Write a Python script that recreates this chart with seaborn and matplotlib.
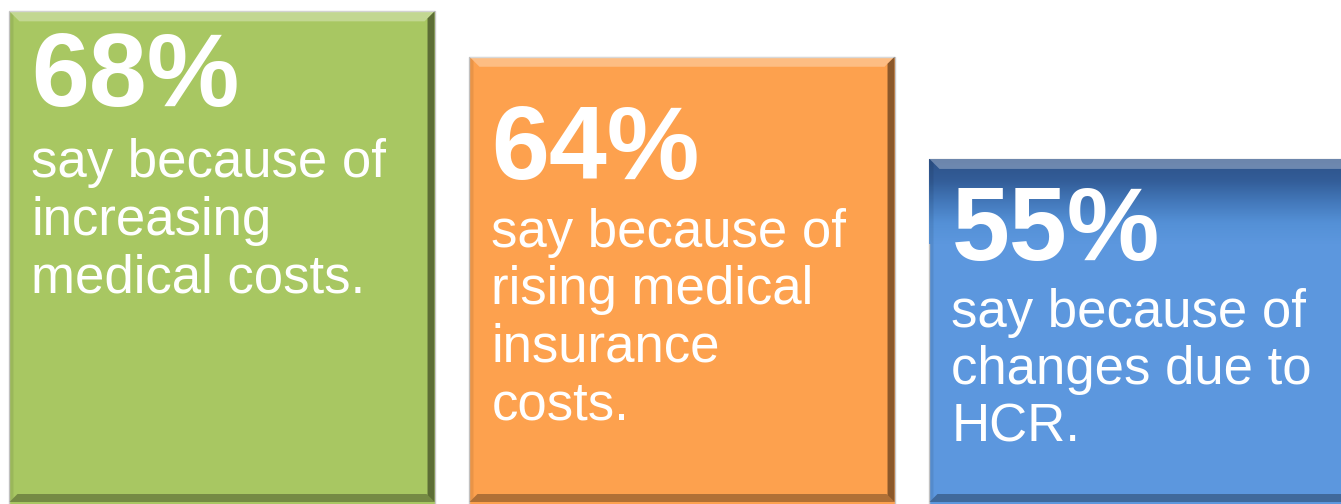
#!/usr/bin/env python3
"""
Three bevelled bars: reasons given for rising costs
"""

import matplotlib
matplotlib.use("Agg")
import matplotlib.pyplot as plt
import matplotlib.transforms as mtransforms
from matplotlib.patches import Polygon
from matplotlib.colors import LinearSegmentedColormap
import seaborn as sns
import numpy as np
import pandas as pd

# Data
categories = ['increasing medical costs', 'rising medical insurance costs', 'changes due to HCR']
values = [68, 64, 55]
big_labels = ['68%', '64%', '55%']
body_labels = [
    'say because of\nincreasing\nmedical costs.',
    'say because of\nrising medical\ninsurance\ncosts.',
    'say because of\nchanges due to\nHCR.',
]

# Styles / layout
bar_colors = ['#A8C762', '#FDA14E', '#5C97DE']
big_offsets = [95, 122, 101]    # px from bar top to baseline of the big number
body_offsets = [166, 190, 168]  # px from bar top to first body baseline
line_step = 57.5

sns.set_style("white")
plt.rcParams['font.family'] = ['Liberation Sans', 'DejaVu Sans']

fig = plt.figure(figsize=(13.41, 5.04), dpi=100)
ax = fig.add_axes([0, 0, 1, 1])

df = pd.DataFrame({'category': categories, 'value': values})
sns.barplot(data=df, x='category', y='value', hue='category', palette=bar_colors,
            width=0.924, legend=False, ax=ax, saturation=1, edgecolor='#C8C8C8',
            linewidth=1)

ax.set_xlim(-0.4826, 2.4326)
ax.set_ylim(24.6, 69.0)
ax.axis('off')

fig.canvas.draw()
ident = mtransforms.IdentityTransform()
bars = ax.patches[:len(values)]

for i, bar in enumerate(bars):
    x0, x1 = bar.get_x(), bar.get_x() + bar.get_width()
    (px0, py0), (px1, py1) = ax.transData.transform([(x0, 24.6), (x1, bar.get_height())])
    py0 = max(py0, 2)

    # gradient top for the blue bar (dark at the top, fading into the bar colour)
    if i == 2:
        top_h = 85
        cmap = LinearSegmentedColormap.from_list(
            'bl', ['#2D5289', '#335D98', '#4378BA', '#5490D6', bar_colors[2]])
        grad = np.linspace(0, 1, 100).reshape(-1, 1)
        ax.imshow(grad, cmap=cmap, aspect='auto', transform=ident, origin='upper',
                  extent=[px0, px1, py1 - top_h, py1], zorder=2.5)

    b = 10
    # top bevel (light)
    ax.add_patch(Polygon([(px0, py1), (px1, py1), (px1 - b, py1 - b), (px0 + b, py1 - b)],
                         closed=True, facecolor='white', alpha=0.3, edgecolor='none',
                         transform=ident, zorder=3))
    # right bevel (dark)
    ax.add_patch(Polygon([(px1, py1), (px1, py0), (px1 - 7, py0 + 7), (px1 - 7, py1 - 7)],
                         closed=True, facecolor='black', alpha=0.45, edgecolor='none',
                         transform=ident, zorder=3))
    # left bevel (slight)
    ax.add_patch(Polygon([(px0, py1), (px0, py0), (px0 + 4, py0 + 4), (px0 + 4, py1 - 4)],
                         closed=True, facecolor='black', alpha=0.08, edgecolor='none',
                         transform=ident, zorder=3))
    # bottom bevel (dark)
    ax.add_patch(Polygon([(px0, py0), (px1, py0), (px1 - 8, py0 + 8), (px0 + 8, py0 + 8)],
                         closed=True, facecolor='black', alpha=0.3, edgecolor='none',
                         transform=ident, zorder=3))

    # texts
    ax.annotate(big_labels[i], xy=(x0, bar.get_height()), xytext=(22, -big_offsets[i]),
                textcoords='offset pixels', ha='left', va='baseline', color='white',
                fontsize=75, fontweight='bold', zorder=5)
    for j, line in enumerate(body_labels[i].split('\n')):
        ax.annotate(line, xy=(x0, bar.get_height()),
                    xytext=(22, -(body_offsets[i] + j * line_step)),
                    textcoords='offset pixels', ha='left', va='baseline', color='white',
                    fontsize=38, zorder=5)

plt.savefig('out.png', dpi=100)
plt.close()
